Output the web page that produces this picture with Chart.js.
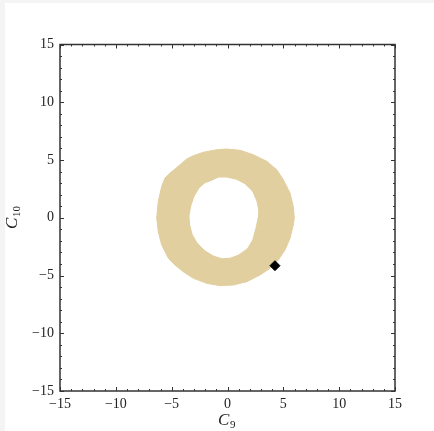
<!DOCTYPE html>
<html>
<head>
<meta charset="utf-8">
<script src="https://cdn.jsdelivr.net/npm/chart.js@4.4.0/dist/chart.umd.min.js"></script>
<style>
  html, body { margin: 0; padding: 0; background: #f4f4f4; }
  #wrap { position: absolute; left: 5px; top: 3px; width: 429px; height: 428px; background: #fff; }
</style>
</head>
<body>
<div id="wrap"><canvas id="chart" width="429" height="428"></canvas></div>
<script>
// ====== allowed region (C9, C10) ======

// outer edge of the band
let outerC9  = [-0.07, 1.12, 2.31, 3.51, 4.41, 5.00, 5.60, 5.89, 5.98, 5.89, 5.60, 5.15, 4.55, 3.81, 2.91, 1.72, 0.52, -0.67, -1.86, -3.06, -3.96, -4.70, -5.30, -5.89, -6.20, -6.34, -6.20, -5.89, -5.60, -5.15, -4.70, -4.25, -3.65, -3.06, -2.17, -0.97];
let outerC10 = [5.95, 5.84, 5.46, 4.89, 4.16, 3.29, 2.14, 0.99, -0.02, -0.63, -1.78, -2.79, -3.66, -4.38, -4.96, -5.54, -5.82, -5.88, -5.68, -5.24, -4.67, -4.09, -3.51, -2.36, -1.21, -0.02, 1.42, 2.72, 3.44, 3.87, 4.22, 4.59, 5.09, 5.37, 5.67, 5.89];

// inner edge (the hole)
let innerC9  = [-0.07, 0.82, 1.57, 2.17, 2.55, 2.70, 2.69, 2.46, 2.17, 1.72, 0.97, 0.22, -0.52, -1.27, -2.01, -2.62, -3.06, -3.30, -3.36, -3.21, -2.91, -2.46, -2.01, -1.42, -0.82];
let innerC10 = [3.44, 3.24, 2.86, 2.29, 1.42, 0.70, 0.15, -0.91, -1.93, -2.65, -3.16, -3.42, -3.46, -3.23, -2.79, -2.21, -1.49, -0.63, 0.15, 0.99, 1.86, 2.58, 2.95, 3.16, 3.44];

// marked point
let pointC9  = [4.25];
let pointC10 = [-4.15];

let tickValues = [-15, -10, -5, 0, 5, 10, 15];

let bandColor = '#e2cf9f';

function toPoints(xs, ys, close) {
  let pts = xs.map((v, i) => ({x: v, y: ys[i]}));
  if (close) pts.push({x: xs[0], y: ys[0]});
  return pts;
}

function minusLabel(v) {
  return v < 0 ? '\u2212' + Math.abs(v) : String(v);
}

// frame, inward ticks on all sides, axis titles
const framePlugin = {
  id: 'frame',
  afterDatasetsDraw(chart) {
    const {ctx, chartArea: a, scales: {x, y}} = chart;
    ctx.save();
    ctx.strokeStyle = '#333';
    ctx.lineWidth = 1;
    for (let v = tickValues[0]; v <= tickValues[tickValues.length - 1]; v++) {
      let len = v % 5 === 0 ? 4 : 2;
      let px = Math.round(x.getPixelForValue(v)) + 0.5;
      let py = Math.round(y.getPixelForValue(v)) + 0.5;
      ctx.beginPath();
      ctx.moveTo(px, a.bottom); ctx.lineTo(px, a.bottom - len);
      ctx.moveTo(px, a.top); ctx.lineTo(px, a.top + len);
      ctx.moveTo(a.left, py); ctx.lineTo(a.left + len, py);
      ctx.moveTo(a.right, py); ctx.lineTo(a.right - len, py);
      ctx.stroke();
    }
    ctx.lineWidth = 1.5;
    ctx.strokeRect(a.left, a.top, a.right - a.left, a.bottom - a.top);

    // axis titles: calligraphic C with subscript
    function subText(main, sub, cx, base) {
      ctx.font = 'italic 17px "Liberation Serif"';
      let w1 = ctx.measureText(main).width;
      ctx.font = '11px "Liberation Serif"';
      let w2 = ctx.measureText(sub).width;
      let x0 = cx - (w1 + w2) / 2;
      ctx.fillStyle = '#222';
      ctx.textBaseline = 'alphabetic';
      ctx.textAlign = 'left';
      ctx.font = 'italic 17px "Liberation Serif"';
      ctx.fillText(main, x0, base);
      ctx.font = '11px "Liberation Serif"';
      ctx.fillText(sub, x0 + w1 + 0.5, base + 3);
    }
    subText('C', '9', (a.left + a.right) / 2 - 1, a.bottom + 34);
    ctx.translate(a.left - 43, (a.top + a.bottom) / 2);
    ctx.rotate(-Math.PI / 2);
    subText('C', '10', 0, 0);
    ctx.restore();
  }
};

let ctx = document.getElementById('chart').getContext('2d');

new Chart(ctx, {
  type: 'line',
  data: {
    datasets: [
      {
        label: 'outer',
        data: toPoints(outerC9, outerC10, true),
        borderColor: bandColor,
        borderWidth: 1,
        backgroundColor: bandColor,
        fill: 'shape',
        pointRadius: 0,
        tension: 0,
        order: 3
      },
      {
        label: 'inner',
        data: toPoints(innerC9, innerC10, true),
        borderColor: '#ffffff',
        borderWidth: 1,
        backgroundColor: '#ffffff',
        fill: 'shape',
        pointRadius: 0,
        tension: 0,
        order: 2
      },
      {
        label: 'point',
        data: toPoints(pointC9, pointC10, false),
        showLine: false,
        pointStyle: 'rectRot',
        pointRadius: 5,
        pointBackgroundColor: '#000',
        pointBorderColor: '#000',
        pointBorderWidth: 1,
        order: 1
      }
    ]
  },
  options: {
    responsive: false,
    devicePixelRatio: 1,
    animation: false,
    layout: {padding: {top: 41.5, right: 39, bottom: 0, left: 0}},
    plugins: {legend: {display: false}, tooltip: {enabled: false}},
    scales: {
      x: {
        type: 'linear',
        min: -15, max: 15,
        afterBuildTicks: s => { s.ticks = tickValues.map(v => ({value: v})); },
        afterFit: s => { s.height = 40; },
        grid: {display: false, drawTicks: false},
        border: {display: false},
        ticks: {
          callback: minusLabel,
          color: '#222',
          padding: 5,
          maxRotation: 0,
          font: {family: '"Liberation Serif"', size: 14}
        }
      },
      y: {
        type: 'linear',
        min: -15, max: 15,
        afterBuildTicks: s => { s.ticks = tickValues.map(v => ({value: v})); },
        afterFit: s => { s.width = 55; },
        grid: {display: false, drawTicks: false},
        border: {display: false},
        ticks: {
          callback: minusLabel,
          color: '#222',
          padding: 6,
          font: {family: '"Liberation Serif"', size: 14}
        }
      }
    }
  },
  plugins: [framePlugin]
});
</script>
</body>
</html>
